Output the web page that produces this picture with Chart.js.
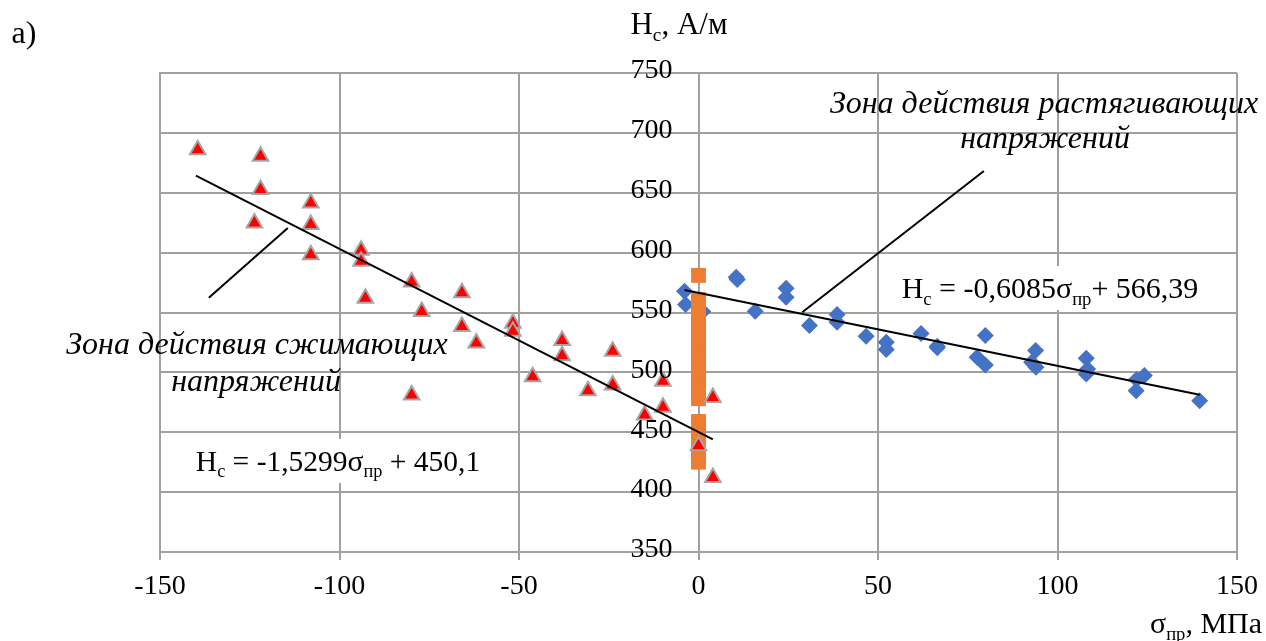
<!DOCTYPE html>
<html><head><meta charset="utf-8">
<script src="https://cdn.jsdelivr.net/npm/chart.js@4"></script>
<style>html,body{margin:0;padding:0;background:#fff}canvas{display:block}</style>
</head><body>
<canvas id="c" width="1266" height="641"></canvas>
<script>
// ---- data ----
const compressionX = [-139.5,-122,-122,-123.7,-108,-108,-108,-94,-94,-92.8,-79.9,-77.1,-79.9,-65.9,-65.9,-61.9,-51.7,-51.7,-46.2,-38,-38,-30.8,-23.9,-23.9,-15,-9.9,-9.9,0,4,4];
const compressionY = [686,680.5,652.7,624.7,641.5,623.4,598.3,601.9,592.7,562,575.5,550.8,481.1,566.5,538.3,524.6,541,534.4,496.4,526.6,513.8,484.7,517.6,489.5,464.4,492.5,470.8,438.7,479.1,412.2];
const tensionX = [-3.9,-3.6,1.2,10.5,10.8,15.8,24.4,24.4,30.9,38.6,38.6,46.7,52.3,52.3,62,66.5,66.5,77.6,79.9,79.9,93.9,92.8,94,108,108.4,108,122,124.2,121.9,139.6];
const tensionY = [567.8,556.7,550.8,579.5,577.5,551,570.3,562.8,539.1,548.3,541.9,530.2,525.1,519,532.4,521.8,520.5,512.6,530.7,506.2,518.2,508.4,504.2,511.8,502.9,498.7,494,497.3,484.7,476.4];
const zeroX = [0,0,0,0,0,0,0,0,0,0,0,0,0,0,0,0,0,0,0,0,0,0,0,0,0,0,0,0,0,0,0,0];
const zeroY = [581,561,558,553,550,546,541,538,534,530,525,522,517,514,509,505,502,497,494,490,486,482,478,459,455,451,446,442,438,434,430,425];
const compTrendX = [-140, 4];
const compTrendY = [664.3, 444.0];
const tensTrendX = [-3.9, 139.6];
const tensTrendY = [568.8, 481.4];
const leaderLeftX = [-136.4, -114.4];
const leaderLeftY = [562.3, 620.5];
const leaderRightX = [28.9, 79.5];
const leaderRightY = [550.2, 668.2];
const xTickValues = [-150,-100,-50,0,50,100,150];
const yTickValues = [350,400,450,500,550,600,650,700,750];
const xTickLabels = ['-150','-100','-50','0','50','100','150'];
const yTickLabels = ['350','400','450','500','550','600','650','700','750'];

const pts = (xs, ys) => xs.map((x, i) => ({x, y: ys[i]}));
const SERIF = '"Liberation Serif","Times New Roman",serif';

function drawRich(ctx, parts, x, y, size, align, italic) {
  const style = italic ? 'italic ' : '';
  let w = 0;
  const measured = parts.map(p => {
    const fs = p[1] ? size * 0.62 : size;
    ctx.font = style + fs + 'px ' + SERIF;
    const mw = ctx.measureText(p[0]).width;
    w += mw;
    return {t: p[0], fs, sub: p[1], mw};
  });
  let sx = align === 'center' ? x - w / 2 : (align === 'right' ? x - w : x);
  ctx.textAlign = 'left';
  ctx.textBaseline = 'alphabetic';
  const base = y + size * 0.33;
  measured.forEach(m => {
    ctx.font = style + m.fs + 'px ' + SERIF;
    ctx.fillText(m.t, sx, base + (m.sub ? size * 0.22 : 0));
    sx += m.mw;
  });
  return w;
}

const textPlugin = {
  id: 'texts',
  afterDraw(chart) {
    const ctx = chart.ctx;
    const xs = chart.scales.x, ys = chart.scales.y;
    ctx.save();
    ctx.fillStyle = '#000';
    // tick labels
    ctx.font = '28px ' + SERIF;
    ctx.textAlign = 'center';
    ctx.textBaseline = 'middle';
    xTickValues.forEach((v, i) => {
      ctx.fillText(xTickLabels[i], xs.getPixelForValue(v), chart.chartArea.bottom + 35);
    });
    ctx.textAlign = 'right';
    const x0 = xs.getPixelForValue(0);
    yTickValues.forEach((v, i) => {
      ctx.fillText(yTickLabels[i], x0 - 26, ys.getPixelForValue(v) - 2);
    });
    // equation boxes
    const eq = (parts, cx, cy, fs) => {
      ctx.fillStyle = '#fff';
      ctx.fillRect(cx - 157, cy - 22, 314, 44);
      ctx.fillStyle = '#000';
      drawRich(ctx, parts, cx, cy, fs, 'center', false);
    };
    eq([['H'],['c',1],[' = -0,6085σ'],['пр',1],['+ 566,39']], 1050, 288, 30);
    eq([['H'],['c',1],[' = -1,5299σ'],['пр',1],[' + 450,1']], 338, 461, 29.5);
    // zone labels
    ctx.fillStyle = '#000';
    drawRich(ctx, [['Зона действия растягивающих']], 1044, 102, 32, 'center', true);
    drawRich(ctx, [['напряжений']], 1045, 137, 32, 'center', true);
    drawRich(ctx, [['Зона действия сжимающих']], 257, 343, 32, 'center', true);
    drawRich(ctx, [['напряжений']], 256, 380, 32, 'center', true);
    // axis titles
    drawRich(ctx, [['H'],['c',1],[', А/м']], 679, 24, 31, 'center', false);
    drawRich(ctx, [['σ'],['пр',1],[', МПа']], 1206, 623, 30, 'center', false);
    drawRich(ctx, [['a)']], 24, 32, 32, 'center', false);
    ctx.restore();
  }
};

new Chart(document.getElementById('c'), {
  type: 'scatter',
  data: {
    datasets: [
      {label: 'leaderL', type: 'line', data: pts(leaderLeftX, leaderLeftY), borderColor: '#000', borderWidth: 2, pointRadius: 0, showLine: true, fill: false, order: 1},
      {label: 'leaderR', type: 'line', data: pts(leaderRightX, leaderRightY), borderColor: '#000', borderWidth: 2, pointRadius: 0, showLine: true, fill: false, order: 1},
      {label: 'tension', data: pts(tensionX, tensionY), pointStyle: 'rectRot', pointRadius: 8.5, backgroundColor: '#4472c4', borderColor: '#4472c4', borderWidth: 0, order: 5},
      {label: 'zero', data: pts(zeroX, zeroY), pointStyle: 'rect', pointRadius: 10.5, backgroundColor: '#ed7d31', borderColor: '#ed7d31', borderWidth: 0, order: 4},
      {label: 'compression', data: pts(compressionX, compressionY), pointStyle: 'triangle', pointRadius: 9, backgroundColor: '#ff0000', borderColor: '#a5a5a5', borderWidth: 2, order: 3},
      {label: 'compTrend', type: 'line', data: pts(compTrendX, compTrendY), borderColor: '#000', borderWidth: 2, pointRadius: 0, fill: false, order: 1},
      {label: 'tensTrend', type: 'line', data: pts(tensTrendX, tensTrendY), borderColor: '#000', borderWidth: 2, pointRadius: 0, fill: false, order: 1}
    ]
  },
  options: {
    responsive: false,
    devicePixelRatio: 1,
    animation: false,
    events: [],
    layout: {padding: {left: 160, right: 29, top: 73, bottom: 81}},
    plugins: {legend: {display: false}, tooltip: {enabled: false}},
    scales: {
      x: {
        type: 'linear', min: -150, max: 150,
        ticks: {display: false, stepSize: 50},
        grid: {color: '#a0a0a0', lineWidth: 2, drawTicks: true, tickLength: 8},
        border: {color: '#a0a0a0', width: 2}
      },
      y: {
        type: 'linear', min: 350, max: 750,
        ticks: {display: false, stepSize: 50},
        grid: {color: '#a0a0a0', lineWidth: 2, drawTicks: false},
        border: {color: '#a0a0a0', width: 2}
      }
    }
  },
  plugins: [textPlugin]
});
</script>
</body></html>
